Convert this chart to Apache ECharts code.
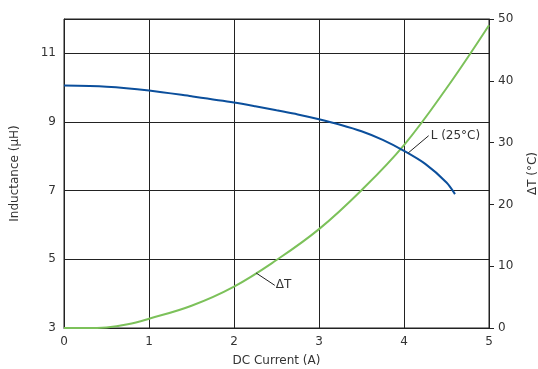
<!DOCTYPE html>
<html>
<head>
<meta charset="utf-8">
<script src="https://cdn.jsdelivr.net/npm/echarts@6/dist/echarts.min.js"></script>
<style>html,body{margin:0;padding:0;background:#fff;overflow:hidden;}#c{width:538px;height:369px;}</style>
</head>
<body>
<div id="c"></div>
<script>
// Data
var currentL = [0, 0.5, 1, 1.5, 2, 2.25, 2.5, 2.75, 3, 3.25, 3.5, 3.75, 4, 4.25, 4.5, 4.6];
var inductance = [10.06, 10.03, 9.92, 9.75, 9.57, 9.46, 9.34, 9.22, 9.08, 8.92, 8.73, 8.48, 8.16, 7.78, 7.24, 6.9];
var currentT = [0, 0.25, 0.5, 0.75, 1, 1.5, 2, 2.5, 3, 3.5, 4, 4.5, 5];
var deltaT = [0, 0, 0.1, 0.6, 1.5, 3.6, 6.7, 11.0, 16.0, 22.3, 29.6, 38.8, 49.0];
var xTicks = [0, 1, 2, 3, 4, 5];
var leftTicks = [3, 5, 7, 9, 11];
var rightTicks = [0, 10, 20, 30, 40, 50];
var labelL = 'L (25°C)';
var labelT = 'ΔT';
var leaderL = [[4.05, 8.1], [4.29, 8.6]];
var leaderT = [[2.26, 8.9], [2.48, 6.9]];

function zip(xs, ys) { return xs.map(function (x, i) { return [x, ys[i]]; }); }

var font = 'DejaVu Sans';
var txt = '#333';
var gridC = '#222';
var chart = echarts.init(document.getElementById('c'), null, {renderer: 'canvas'});
chart.setOption({
  animation: false,
  grid: {left: 64, right: 49, top: 19, bottom: 41, show: true, borderColor: gridC, borderWidth: 1,
    containLabel: false, outerBoundsMode: 'none'},
  xAxis: {
    type: 'value', min: 0, max: 5, interval: 1,
    name: 'DC Current (A)', nameLocation: 'middle', nameGap: 27,
    nameTextStyle: {fontFamily: font, fontSize: 12, color: txt},
    axisLine: {show: true, lineStyle: {color: gridC, width: 1}},
    axisTick: {show: false},
    axisLabel: {fontFamily: font, fontSize: 12, color: txt, margin: 8,
      formatter: function (v) { return xTicks.indexOf(v) >= 0 ? String(v) : ''; }},
    splitLine: {show: true, lineStyle: {color: gridC, width: 1}}
  },
  yAxis: [{
    type: 'value', min: 3, max: 12, interval: 2, position: 'left',
    name: 'Inductance (µH)', nameLocation: 'middle', nameGap: 43, nameRotate: 90,
    nameTextStyle: {fontFamily: font, fontSize: 12, color: txt},
    axisLine: {show: true, lineStyle: {color: gridC, width: 1}},
    axisTick: {show: false},
    axisLabel: {fontFamily: font, fontSize: 12, color: txt, margin: 8,
      formatter: function (v) { return leftTicks.indexOf(v) >= 0 ? String(v) : ''; }},
    splitLine: {show: true, lineStyle: {color: gridC, width: 1}}
  }, {
    type: 'value', min: 0, max: 50, interval: 10, position: 'right',
    name: 'ΔT (°C)', nameLocation: 'middle', nameGap: 38, nameRotate: 90,
    nameTextStyle: {fontFamily: font, fontSize: 12, color: txt},
    axisLine: {show: true, lineStyle: {color: gridC, width: 1}},
    axisTick: {show: true, length: 5, inside: false, lineStyle: {color: gridC}},
    axisLabel: {fontFamily: font, fontSize: 12, color: txt, margin: 9,
      formatter: function (v) { return rightTicks.indexOf(v) >= 0 ? String(v) : ''; }},
    splitLine: {show: false}
  }],
  series: [{
    type: 'line', yAxisIndex: 1, data: zip(currentT, deltaT), smooth: 0.4,
    showSymbol: false, lineStyle: {color: '#7cc15a', width: 2}, z: 3
  }, {
    type: 'line', yAxisIndex: 0, data: zip(currentL, inductance), smooth: 0.3,
    showSymbol: false, lineStyle: {color: '#0b4f9c', width: 2}, z: 4
  }, {
    type: 'line', yAxisIndex: 0, data: leaderL, showSymbol: false, silent: true,
    lineStyle: {color: '#222', width: 1}, z: 5,
    endLabel: {show: true, formatter: labelL, fontFamily: font, fontSize: 12, color: txt, distance: 2}
  }, {
    type: 'line', yAxisIndex: 1, data: leaderT, showSymbol: false, silent: true,
    lineStyle: {color: '#222', width: 1}, z: 5,
    endLabel: {show: true, formatter: labelT, fontFamily: font, fontSize: 12, color: txt, distance: 1}
  }]
});
</script>
</body>
</html>
